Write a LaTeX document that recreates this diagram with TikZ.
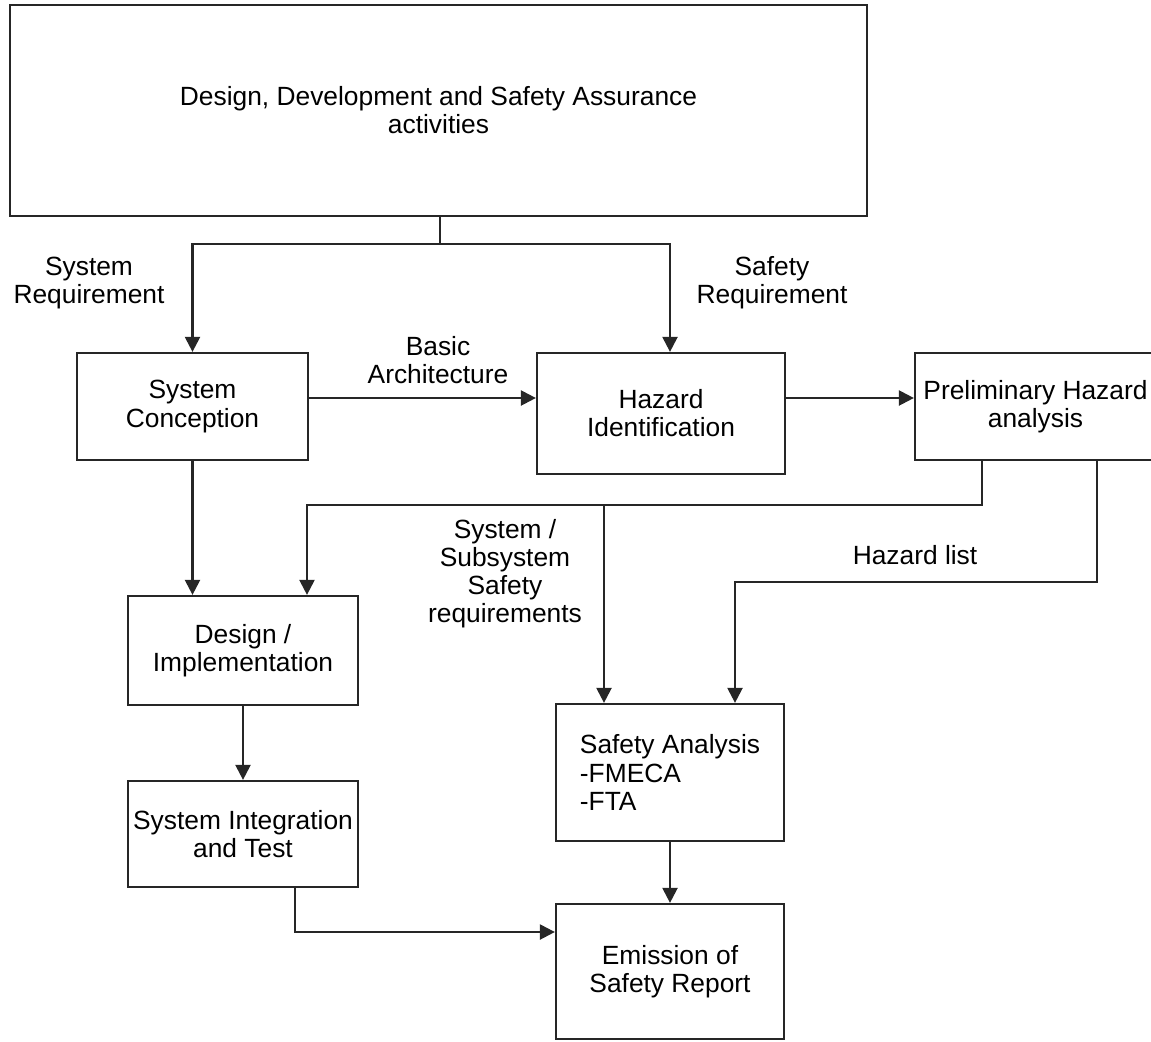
\documentclass[tikz,border=0pt]{standalone}
\usepackage{fontspec}
\setmainfont{Liberation Sans}
\usetikzlibrary{arrows.meta}

\begin{document}
\begin{tikzpicture}[x=0.02cm, y=-0.02cm,
    block/.style={rectangle, draw=black!85, line width=1.3pt, inner sep=0pt,
                  align=center, font=\fontsize{15}{16}\selectfont},
    lbl/.style={align=center, inner sep=0pt, font=\fontsize{15}{16}\selectfont},
    arrow/.style={-{Triangle[length=0.3cm, width=0.3cm]}, line width=1.3pt, draw=black!85}
]
    \useasboundingbox (0,0) rectangle (1151,1041);

    % boxes
    \node[block, minimum width=17.14cm, minimum height=4.22cm] (act) at (438.5,110.5)
        {Design, Development and Safety Assurance\\activities};
    \node[block, minimum width=4.62cm, minimum height=2.14cm] (sysconc) at (192.5,406.5)
        {System\\Conception};
    \node[block, minimum width=4.96cm, minimum height=2.42cm] (hazid) at (661,413.5)
        {Hazard\\Identification};
    \node[block, minimum width=4.82cm, minimum height=2.14cm] (prelim) at (1035.5,406.5)
        {Preliminary Hazard\\analysis};
    \node[block, minimum width=4.6cm, minimum height=2.18cm] (design) at (243,650.5)
        {Design /\\Implementation};
    \node[block, minimum width=4.6cm, minimum height=2.12cm] (integ) at (243,834)
        {System Integration\\and Test};
    \node[block, minimum width=4.56cm, minimum height=2.74cm, align=left] (safety) at (670,772.5)
        {Safety Analysis\\-FMECA\\-FTA};
    \node[block, minimum width=4.56cm, minimum height=2.7cm] (emission) at (670,971.5)
        {Emission of\\Safety Report};

    % labels
    \node[lbl] (sysreq) at (89,283) {System\\Requirement};
    \node[lbl] (safreq) at (772,283) {Safety\\Requirement};
    \node[lbl] (basic) at (438,360) {Basic\\Architecture};
    \node[lbl] (subreq) at (505,574) {System /\\Subsystem\\Safety\\requirements};
    \node[lbl] (hlist) at (915,555) {Hazard list};

    % routing points
    \coordinate (split) at (440,244);
    \coordinate (row) at (0,398);
    \coordinate (req) at (982,505);
    \coordinate (tap) at (604,505);
    \coordinate (haz) at (1097,582);
    \coordinate (hl) at (735,582);
    \coordinate (rep) at (295,932);

    % connectors
    \draw[line width=1.3pt, draw=black!85] (act.south -| split) -- (split);
    \draw[arrow] (split) -| (sysconc.north);
    \draw[arrow] (split) -| ([xshift=0.18cm]hazid.north);
    \draw[arrow] (sysconc.east |- row) -- (hazid.west |- row);
    \draw[arrow] (hazid.east |- row) -- (prelim.west |- row);
    \draw[arrow] (sysconc.south) -- (design.north -| sysconc.south);
    \draw[arrow] (prelim.south -| req) -- (req) -| ([xshift=1.28cm]design.north);
    \draw[arrow] (tap) -- (safety.north -| tap);
    \draw[arrow] (prelim.south -| haz) -- (haz) -- (hl) -- (safety.north -| hl);
    \draw[arrow] (design.south) -- (integ.north);
    \draw[arrow] (integ.south -| rep) -- (rep) -- (emission.west |- rep);
    \draw[arrow] (safety.south) -- (emission.north);
\end{tikzpicture}
\end{document}
